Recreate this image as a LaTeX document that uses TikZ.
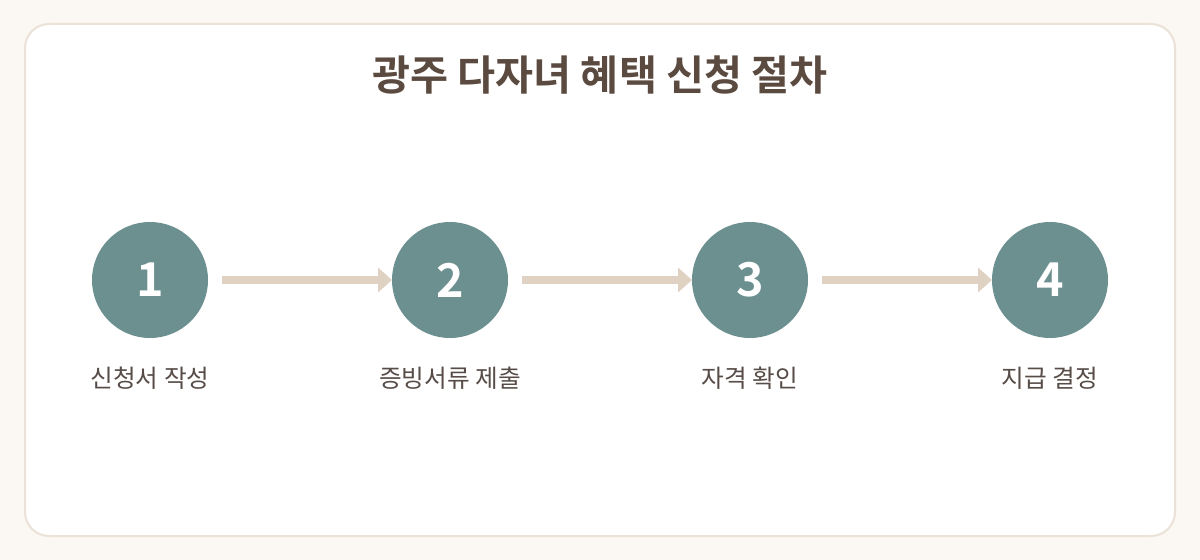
\documentclass[tikz,border=0pt]{standalone}
\usepackage{fontspec}
\setmainfont{Noto Sans CJK KR}
\newfontfamily\titlefont{Noto Sans CJK KR Bold}
\usetikzlibrary{arrows.meta}
\definecolor{pagebg}{HTML}{FBF8F3}
\definecolor{cardline}{HTML}{EAE2D6}
\definecolor{stepfill}{HTML}{6C8F8F}
\definecolor{flowline}{HTML}{E0D2C3}
\definecolor{titlebrown}{HTML}{5B4A3F}
\definecolor{labelbrown}{HTML}{574C47}
\begin{document}
\begin{tikzpicture}[x=0.75pt,y=-0.75pt,
    stepcircle/.style={circle,fill=stepfill,minimum size=87pt,inner sep=0pt,outer sep=0pt,
        text=white,font=\titlefont\fontsize{35}{40}\selectfont},
    steplabel/.style={text=labelbrown,font=\fontsize{18.5}{22}\selectfont},
    flow/.style={-{Triangle[length=10.5pt,width=18pt]},color=flowline,line width=6pt,shorten <=10.5pt}]
                \useasboundingbox[fill=pagebg] (0,0) rectangle (1200,560);
                \draw[cardline,fill=white,line width=1.5pt,rounded corners=18pt] (25,24) rectangle (1175,536);
                \node[text=titlebrown,font=\titlefont\fontsize{31}{36}\selectfont] (title) at (600,75) {광주 다자녀 혜택 신청 절차};

                \node[stepcircle] (s1) at (150,280) {1};
                \node[stepcircle] (s2) at (450,280) {2};
                \node[stepcircle] (s3) at (750,280) {3};
                \node[stepcircle] (s4) at (1050,280) {4};

                \node[steplabel] (l1) at (150,378) {신청서 작성};
                \node[steplabel] (l2) at (450,378) {증빙서류 제출};
                \node[steplabel] (l3) at (750,378) {자격 확인};
                \node[steplabel] (l4) at (1050,378) {지급 결정};

                \path[flow] (s1) edge (s2)
                            (s2) edge (s3)
                            (s3) edge (s4);
            \end{tikzpicture}
\end{document}
